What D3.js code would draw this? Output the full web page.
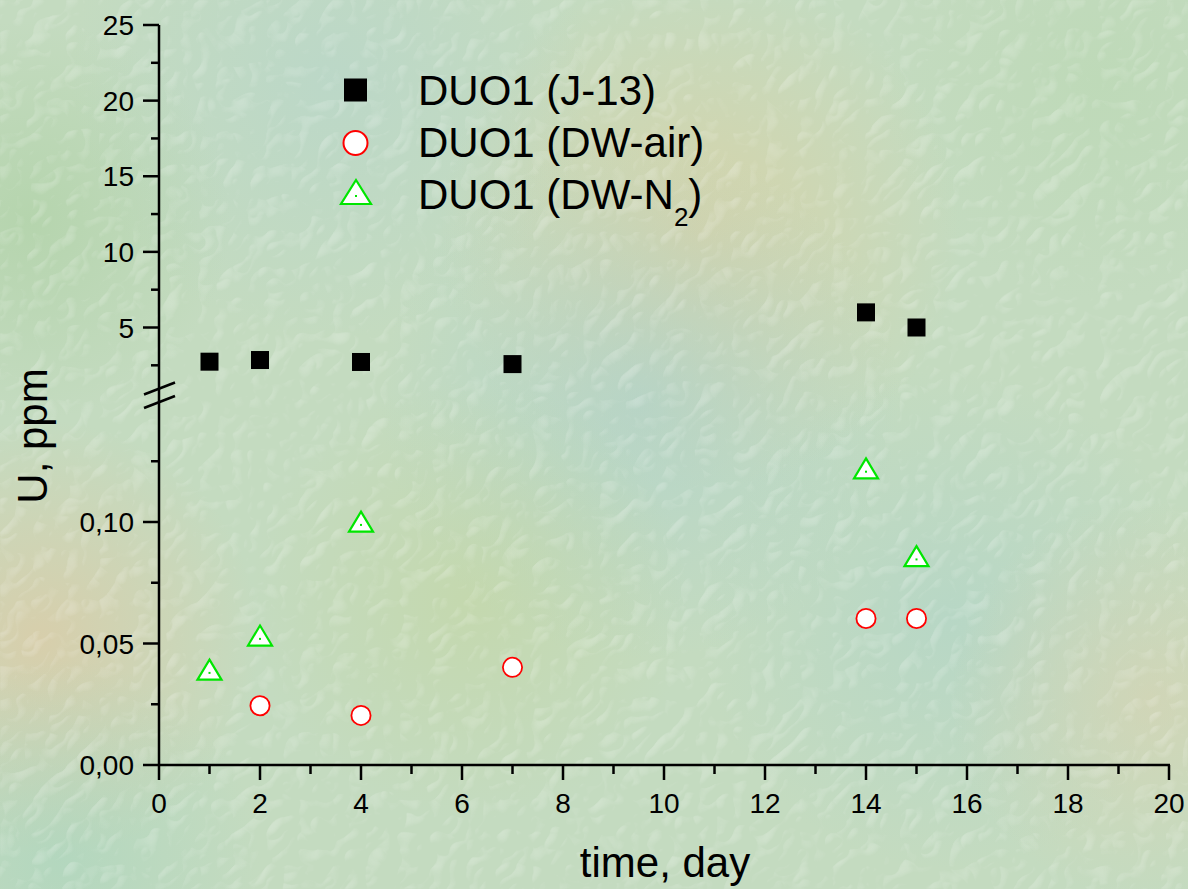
<!DOCTYPE html>
<html><head><meta charset="utf-8">
<script src="https://cdn.jsdelivr.net/npm/d3@7"></script>
<style>
html,body{margin:0;padding:0;background:#c6dcc4;}
svg{display:block;font-family:"Liberation Sans",Arial,sans-serif;}
</style></head>
<body>
<svg id="chart" width="1188" height="889"></svg>
<script>
// ---- data ----
const days = [1, 2, 4, 7, 14, 15];
const j13 = [2.74, 2.85, 2.72, 2.58, 6.0, 5.0];
const dwAirDays = [2, 4, 7, 14, 15];
const dwAir = [0.0244, 0.0204, 0.0402, 0.0603, 0.0603];
const dwN2Days = [1, 2, 4, 14, 15];
const dwN2 = [0.0379, 0.0519, 0.0988, 0.1207, 0.0846];
const xTicks = [0, 2, 4, 6, 8, 10, 12, 14, 16, 18, 20];
const xMinor = [1, 3, 5, 7, 9, 11, 13, 15, 17, 19];
const yUpTicks = [5, 10, 15, 20, 25];
const yUpMinor = [2.5, 7.5, 12.5, 17.5, 22.5];
const yLoTicks = [0, 0.05, 0.10];
const yLoMinor = [0.025, 0.075, 0.125];
const legendLabels = ["DUO1 (J-13)", "DUO1 (DW-air)", "DUO1 (DW-N"];

const svg = d3.select("#chart");
const defs = svg.append("defs");

// background gradients
const blobs = [
  {id:"b1", cx:700, cy:230, r:260, c:"#d8d2a6", o:0.85},
  {id:"b2", cx:640, cy:400, r:260, c:"#a9d0cf", o:0.55},
  {id:"b3", cx:40, cy:640, r:220, c:"#dccba6", o:0.8},
  {id:"b4", cx:330, cy:80, r:260, c:"#b3d4cf", o:0.5},
  {id:"b5", cx:950, cy:620, r:250, c:"#a8d2cc", o:0.45},
  {id:"b6", cx:470, cy:600, r:220, c:"#c4d6a2", o:0.6},
  {id:"b7", cx:1150, cy:700, r:200, c:"#dad2b0", o:0.6},
  {id:"b8", cx:60, cy:860, r:200, c:"#a8d4bd", o:0.6},
  {id:"b9", cx:30, cy:220, r:200, c:"#a9cf9e", o:0.55},
  {id:"b10", cx:1100, cy:80, r:220, c:"#b8d8b0", o:0.5}
];
blobs.forEach(b => {
  const g = defs.append("radialGradient").attr("id", b.id);
  g.append("stop").attr("offset", "0%").attr("stop-color", b.c).attr("stop-opacity", b.o);
  g.append("stop").attr("offset", "100%").attr("stop-color", b.c).attr("stop-opacity", 0);
});
const f = defs.append("filter").attr("id","tex").attr("x",0).attr("y",0).attr("width","100%").attr("height","100%");
f.append("feTurbulence").attr("type","turbulence").attr("baseFrequency","0.03").attr("numOctaves",2).attr("seed",5).attr("result","n");
const dl = f.append("feDiffuseLighting").attr("in","n").attr("surfaceScale",4).attr("lighting-color","#ffffff").attr("result","l");
dl.append("feDistantLight").attr("azimuth",225).attr("elevation",45);
f.append("feColorMatrix").attr("in","l").attr("type","matrix")
  .attr("values","0 0 0 0 1  0 0 0 0 1  0 0 0 0 1  1.6 0 0 0 -1.15");

svg.append("rect").attr("width",1188).attr("height",889).attr("fill","#c4dbc0");
blobs.forEach(b => svg.append("circle").attr("cx",b.cx).attr("cy",b.cy).attr("r",b.r).attr("fill",`url(#${b.id})`));
svg.append("rect").attr("width",1188).attr("height",889).attr("filter","url(#tex)").attr("opacity",0.55);

// ---- scales ----
const x = d3.scaleLinear().domain([0, 20]).range([159, 1169]);
const yUp = d3.scaleLinear().domain([5, 25]).range([327.5, 25]);
const yLo = d3.scaleLinear().domain([0, 0.1]).range([765, 522]);

const ink = "#000";
const axW = 2.5;

// x axis
const gx = svg.append("g").attr("transform","translate(0,765)");
gx.append("line").attr("x1",x(0)-1).attr("x2",x(20)+1).attr("stroke",ink).attr("stroke-width",axW);
gx.selectAll(".xt").data(xTicks).join("line").attr("x1",d=>x(d)).attr("x2",d=>x(d)).attr("y1",0).attr("y2",15).attr("stroke",ink).attr("stroke-width",axW);
gx.selectAll(".xm").data(xMinor).join("line").attr("x1",d=>x(d)).attr("x2",d=>x(d)).attr("y1",0).attr("y2",9).attr("stroke",ink).attr("stroke-width",axW);
gx.selectAll("text").data(xTicks).join("text").attr("x",d=>x(d)).attr("y",48).attr("text-anchor","middle")
  .attr("font-size",28).attr("fill",ink).text(d=>d);

// y axis line
svg.append("line").attr("x1",159).attr("x2",159).attr("y1",25).attr("y2",766).attr("stroke",ink).attr("stroke-width",axW);
// upper ticks
svg.selectAll(".yut").data(yUpTicks).join("line").attr("x1",143).attr("x2",159).attr("y1",d=>yUp(d)).attr("y2",d=>yUp(d)).attr("stroke",ink).attr("stroke-width",axW);
svg.selectAll(".yum").data(yUpMinor).join("line").attr("x1",151).attr("x2",159).attr("y1",d=>yUp(d)).attr("y2",d=>yUp(d)).attr("stroke",ink).attr("stroke-width",axW);
svg.selectAll(".yul").data(yUpTicks).join("text").attr("x",134).attr("y",d=>yUp(d)+10).attr("text-anchor","end")
  .attr("font-size",28).attr("fill",ink).text(d=>d);
// lower ticks
svg.selectAll(".ylt").data(yLoTicks).join("line").attr("x1",143).attr("x2",159).attr("y1",d=>yLo(d)).attr("y2",d=>yLo(d)).attr("stroke",ink).attr("stroke-width",axW);
svg.selectAll(".ylm").data(yLoMinor).join("line").attr("x1",151).attr("x2",159).attr("y1",d=>yLo(d)).attr("y2",d=>yLo(d)).attr("stroke",ink).attr("stroke-width",axW);
svg.selectAll(".yll").data(yLoTicks).join("text").attr("x",134).attr("y",d=>yLo(d)+10).attr("text-anchor","end")
  .attr("font-size",28).attr("fill",ink).text(d=>d.toFixed(2).replace(".", ","));

// break marks
[[394.5,382.5],[408,396]].forEach(p => {
  svg.append("line").attr("x1",144).attr("y1",p[0]).attr("x2",175).attr("y2",p[1]).attr("stroke",ink).attr("stroke-width",axW);
});

// axis titles
svg.append("text").attr("x",665).attr("y",877).attr("text-anchor","middle").attr("font-size",42).attr("fill",ink).text("time, day");
svg.append("text").attr("transform","translate(47,436) rotate(-90)").attr("text-anchor","middle").attr("font-size",42).attr("fill",ink).text("U, ppm");

// ---- marker helpers ----
const green = "#00e600", red = "#ff0000";
function tri(g, cx, cy, w, h) {
  const top = cy - h * 2 / 3, bot = cy + h / 3;
  g.append("path").attr("d", `M${cx},${top}L${cx + w/2},${bot}L${cx - w/2},${bot}Z`)
    .attr("fill","#fff").attr("stroke",green).attr("stroke-width",2.2).attr("stroke-linejoin","miter");
  g.append("rect").attr("x",cx-1).attr("y",cy-1).attr("width",2).attr("height",2).attr("fill",green);
}

// data marks
const gm = svg.append("g");
dwN2.forEach((v,i) => tri(gm, x(dwN2Days[i]), yLo(v), 24, 20));
gm.selectAll(".c").data(dwAir).join("circle").attr("cx",(d,i)=>x(dwAirDays[i])).attr("cy",d=>yLo(d)).attr("r",9.6)
  .attr("fill","#fff").attr("stroke",red).attr("stroke-width",1.8);
gm.selectAll(".s").data(j13).join("rect").attr("x",(d,i)=>x(days[i])-9).attr("y",d=>yUp(d)-9).attr("width",18).attr("height",18).attr("fill",ink);

// legend
const lg = svg.append("g");
lg.append("rect").attr("x",344).attr("y",78.5).attr("width",23).attr("height",23).attr("fill",ink);
lg.append("circle").attr("cx",355.5).attr("cy",143).attr("r",12).attr("fill","#fff").attr("stroke",red).attr("stroke-width",2);
tri(lg, 356, 196, 30, 24);
const baseY = [105, 157, 209];
legendLabels.forEach((t,i) => {
  const tx = lg.append("text").attr("x",418).attr("y",baseY[i]).attr("font-size",42).attr("fill",ink);
  tx.append("tspan").text(t);
  if (i === 2) {
    tx.append("tspan").attr("font-size",26).attr("dy",17).text("2");
    tx.append("tspan").attr("font-size",42).attr("dy",-17).text(")");
  }
});
</script>
</body></html>
